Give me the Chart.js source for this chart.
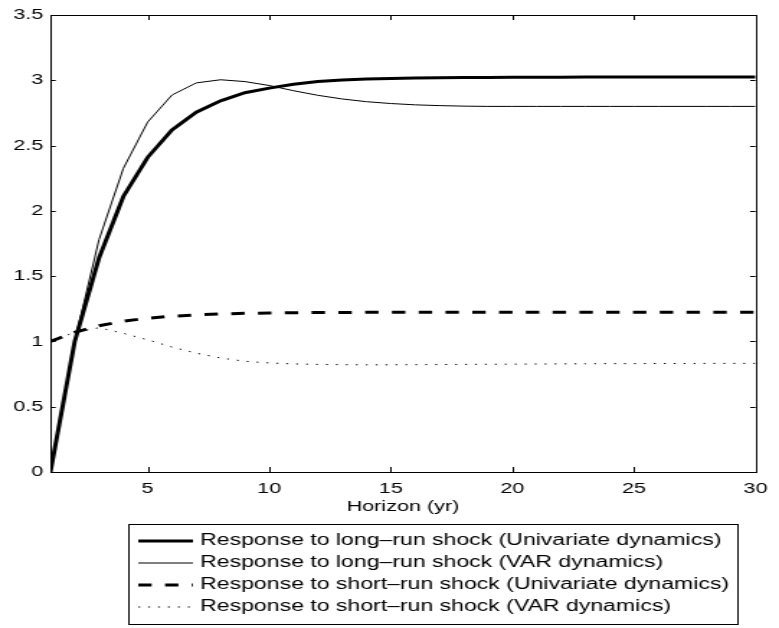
<!DOCTYPE html>
<html>
<head>
<meta charset="utf-8">
<script src="https://cdn.jsdelivr.net/npm/chart.js@4"></script>
<style>
  html, body { margin: 0; padding: 0; background: #fff; }
</style>
</head>
<body>
<!-- the reference figure is stretched sideways, so the canvas is drawn narrow and shown wide -->
<canvas id="chart" width="541" height="628" style="width:779px;height:628px;display:block"></canvas>
<script>
const horizon = [1, 2, 3, 4, 5, 6, 7, 8, 9, 10, 11, 12, 13, 14, 15,
                 16, 17, 18, 19, 20, 21, 22, 23, 24, 25, 26, 27, 28, 29, 30];

const longRunUni = [0, 1.0, 1.64, 2.11, 2.41, 2.62, 2.755, 2.843, 2.905, 2.94,
                    2.97, 2.99, 3.002, 3.009, 3.014, 3.017, 3.019, 3.021, 3.022, 3.023,
                    3.024, 3.024, 3.025, 3.025, 3.025, 3.025, 3.025, 3.025, 3.025, 3.025];

const longRunVar = [0, 1.0, 1.78, 2.325, 2.68, 2.887, 2.98, 3.004, 2.99, 2.96,
                    2.92, 2.885, 2.857, 2.836, 2.822, 2.812, 2.806, 2.802, 2.80, 2.80,
                    2.80, 2.80, 2.80, 2.80, 2.80, 2.80, 2.80, 2.80, 2.80, 2.80];

const shortRunUni = [1.0, 1.07, 1.12, 1.155, 1.178, 1.193, 1.203, 1.21, 1.215, 1.218,
                     1.22, 1.221, 1.222, 1.223, 1.223, 1.223, 1.224, 1.224, 1.224, 1.224,
                     1.224, 1.224, 1.224, 1.224, 1.224, 1.224, 1.224, 1.224, 1.224, 1.224];

const shortRunVar = [1.0, 1.07, 1.105, 1.062, 1.012, 0.957, 0.91, 0.873, 0.848, 0.835,
                     0.828, 0.824, 0.822, 0.821, 0.821, 0.822, 0.823, 0.824, 0.825, 0.826,
                     0.827, 0.828, 0.829, 0.83, 0.83, 0.831, 0.831, 0.832, 0.832, 0.832];

const seriesLabels = [
    'Response to long\u2013run shock (Univariate dynamics)',
    'Response to long\u2013run shock (VAR dynamics)',
    'Response to short\u2013run shock (Univariate dynamics)',
    'Response to short\u2013run shock (VAR dynamics)'
];

const yTickLabels = ['0', '0.5', '1', '1.5', '2', '2.5', '3', '3.5'];
const xTitle = 'Horizon (yr)';

const FONT = "'Liberation Sans', Arial, Helvetica, sans-serif";

function toPoints(values) {
    return horizon.map((h, i) => ({ x: h, y: values[i] }));
}

// box round the plot with inward ticks on all four sides, like the original
const axesFrame = {
    id: 'axesFrame',
    afterDatasetsDraw(chart) {
        const { ctx, chartArea: a, scales } = chart;
        ctx.save();
        ctx.strokeStyle = '#000';
        ctx.lineWidth = 1;
        ctx.setLineDash([]);
        ctx.beginPath();
        scales.x.ticks.forEach(t => {
            const px = Math.round(scales.x.getPixelForValue(t.value)) + 0.5;
            ctx.moveTo(px, a.bottom); ctx.lineTo(px, a.bottom - 5);
            ctx.moveTo(px, a.top); ctx.lineTo(px, a.top + 5);
        });
        scales.y.ticks.forEach(t => {
            const py = Math.round(scales.y.getPixelForValue(t.value)) + 0.5;
            ctx.moveTo(a.left, py); ctx.lineTo(a.left + 3.7, py);
            ctx.moveTo(a.right, py); ctx.lineTo(a.right - 3.7, py);
        });
        ctx.stroke();
        ctx.strokeRect(Math.round(a.left) + 0.5, Math.round(a.top) + 0.5,
                       Math.round(a.right - a.left), Math.round(a.bottom - a.top));
        ctx.restore();
    }
};

// legend box under the axis title
const boxLegend = {
    id: 'boxLegend',
    afterDraw(chart) {
        const { ctx } = chart;
        const boxLeft = 89, boxRight = 512, boxTop = 524.5, boxBottom = 624.5;
        const lineStart = 96, lineEnd = 134, textX = 139;
        const rowY = 541, rowGap = 22;
        ctx.save();
        ctx.fillStyle = '#fff';
        ctx.fillRect(boxLeft, boxTop, boxRight - boxLeft, boxBottom - boxTop);
        ctx.strokeStyle = '#000';
        ctx.lineWidth = 1;
        ctx.setLineDash([]);
        ctx.strokeRect(boxLeft + 0.5, boxTop, boxRight - boxLeft, boxBottom - boxTop);
        chart.data.datasets.forEach((ds, i) => {
            const y = rowY + i * rowGap;
            ctx.beginPath();
            ctx.lineWidth = ds.borderWidth;
            ctx.setLineDash(ds.borderDash || []);
            ctx.moveTo(lineStart, y);
            ctx.lineTo(lineEnd, y);
            ctx.stroke();
            ctx.setLineDash([]);
            ctx.fillStyle = '#000';
            ctx.font = '16px ' + FONT;
            ctx.textBaseline = 'middle';
            ctx.textAlign = 'left';
            ctx.fillText(ds.label, textX, y);
        });
        ctx.restore();
    }
};

new Chart(document.getElementById('chart'), {
    type: 'line',
    data: {
        datasets: [
            {
                label: seriesLabels[0],
                data: toPoints(longRunUni),
                borderColor: '#000',
                borderWidth: 3,
                pointRadius: 0
            },
            {
                label: seriesLabels[1],
                data: toPoints(longRunVar),
                borderColor: '#000',
                borderWidth: 1,
                pointRadius: 0
            },
            {
                label: seriesLabels[2],
                data: toPoints(shortRunUni),
                borderColor: '#000',
                borderWidth: 3,
                borderDash: [9.3, 9.3],
                pointRadius: 0
            },
            {
                label: seriesLabels[3],
                data: toPoints(shortRunVar),
                borderColor: '#000',
                borderWidth: 1,
                borderDash: [1.3, 5.6],
                pointRadius: 0
            }
        ]
    },
    options: {
        responsive: false,
        devicePixelRatio: 1,
        animation: false,
        layout: { padding: { left: 0, right: 10, top: 15, bottom: 0 } },
        elements: { line: { tension: 0, fill: false } },
        plugins: {
            legend: { display: false },
            tooltip: { enabled: false }
        },
        scales: {
            x: {
                type: 'linear',
                min: 1,
                max: 30,
                grid: { display: false, drawTicks: false },
                border: { display: false },
                ticks: {
                    stepSize: 5,
                    includeBounds: false,
                    maxRotation: 0,
                    padding: 8,
                    color: '#000',
                    font: { family: FONT, size: 15 }
                },
                title: {
                    display: true,
                    text: xTitle,
                    color: '#000',
                    font: { family: FONT, size: 15 },
                    padding: { top: 0, bottom: 112 }
                },
                afterFit(scale) { scale.height = 156; }
            },
            y: {
                min: 0,
                max: 3.5,
                grid: { display: false, drawTicks: false },
                border: { display: false },
                ticks: {
                    stepSize: 0.5,
                    padding: 5,
                    color: '#000',
                    font: { family: FONT, size: 15 },
                    callback: (value, index) => yTickLabels[index]
                },
                afterFit(scale) { scale.width = 35; }
            }
        }
    },
    plugins: [axesFrame, boxLegend]
});
</script>
</body>
</html>
